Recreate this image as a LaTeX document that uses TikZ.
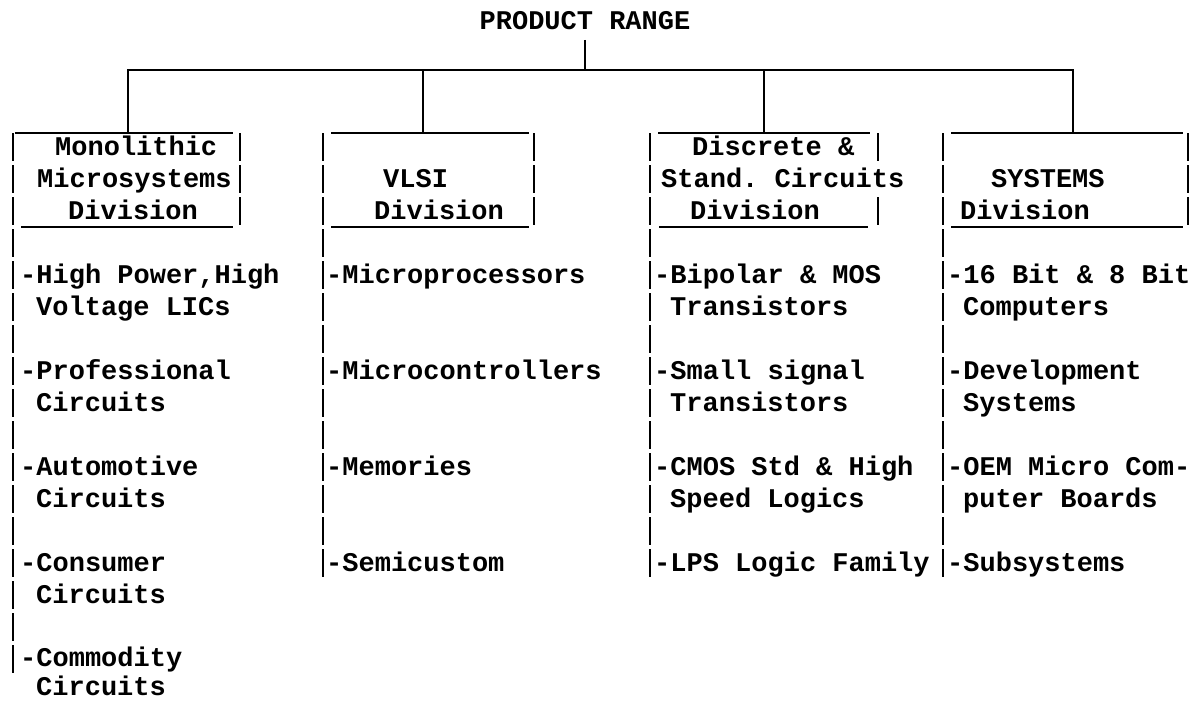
\documentclass[tikz,border=0pt]{standalone}
\usepackage{fontspec}
\setmonofont{Liberation Mono}
\begin{document}
\begin{tikzpicture}[x=1pt,y=-1pt,
  ln/.style={line width=2.8pt},
  barline/.style={line width=2.8pt},
  txt/.style={font=\ttfamily\bfseries\fontsize{27}{32}\selectfont, anchor=base west, inner sep=0pt}]
\useasboundingbox (0,0) rectangle (1202,701);

% title
\node[txt, anchor=base] (title) at (585,30) {PRODUCT RANGE};
\coordinate (tb) at (585,40);
\coordinate (j) at (585,70);
\coordinate (d1) at (128,133);
\coordinate (d2) at (423,133);
\coordinate (d3) at (764,133);
\coordinate (d4) at (1073,133);
\draw[ln] (tb) -- (j);
\draw[ln] (d1) -- (d1|-j) -- (d4|-j) -- (d4);
\draw[ln] (d2|-j) -- (d2);
\draw[ln] (d3|-j) -- (d3);

% box top lines and underlines
\draw[ln] (15,133) -- (233,133);
\draw[ln] (331,133) -- (529,133);
\draw[ln] (658,133) -- (870,133);
\draw[ln] (951,133) -- (1183,133);
\draw[ln] (21,227) -- (233,227);
\draw[ln] (331,227) -- (529,227);
\draw[ln] (659,227) -- (868,227);
\draw[ln] (951,227) -- (1183,227);

% left bars (typewriter rows)
\foreach \k in {0,...,16} \draw[barline] (13,{133+32*\k}) -- (13,{161+32*\k});
\foreach \k in {0,...,13} {
  \draw[barline] (323,{133+32*\k}) -- (323,{161+32*\k});
  \draw[barline] (650,{133+32*\k}) -- (650,{161+32*\k});
  \draw[barline] (943,{133+32*\k}) -- (943,{161+32*\k});
}
% right bars of the division boxes
\foreach \k in {0,1,2} {
  \draw[barline] (240,{133+32*\k}) -- (240,{161+32*\k});
  \draw[barline] (534,{133+32*\k}) -- (534,{161+32*\k});
  \draw[barline] (1188,{133+32*\k}) -- (1188,{161+32*\k});
}
\foreach \k in {0,2} \draw[barline] (878,{133+32*\k}) -- (878,{161+32*\k});

% division boxes
\node[txt] (m1) at (55,155) {Monolithic};
\node[txt] (m2) at (37,187) {Microsystems};
\node[txt] (m3) at (68,219) {Division};
\node[txt] (v1) at (383,187) {VLSI};
\node[txt] (v2) at (374,219) {Division};
\node[txt] (c1) at (692,155) {Discrete \&};
\node[txt] (c2) at (661,187) {Stand. Circuits};
\node[txt] (c3) at (690,219) {Division};
\node[txt] (s1) at (991,187) {SYSTEMS};
\node[txt] (s2) at (960,219) {Division};

% column 1
\node[txt] (a1) at (20,283) {-High Power,High};
\node[txt] (a2) at (36,315) {Voltage LICs};
\node[txt] (a3) at (20,379) {-Professional};
\node[txt] (a4) at (36,411) {Circuits};
\node[txt] (a5) at (20,475) {-Automotive};
\node[txt] (a6) at (36,507) {Circuits};
\node[txt] (a7) at (20,571) {-Consumer};
\node[txt] (a8) at (36,603) {Circuits};
\node[txt] (a9) at (20,666) {-Commodity};
\node[txt] (a10) at (36,695) {Circuits};

% column 2
\node[txt] (b1) at (326,283) {-Microprocessors};
\node[txt] (b2) at (326,379) {-Microcontrollers};
\node[txt] (b3) at (326,475) {-Memories};
\node[txt] (b4) at (326,571) {-Semicustom};

% column 3
\node[txt] (e1) at (654,283) {-Bipolar \& MOS};
\node[txt] (e2) at (670,315) {Transistors};
\node[txt] (e3) at (654,379) {-Small signal};
\node[txt] (e4) at (670,411) {Transistors};
\node[txt] (e5) at (654,475) {-CMOS Std \& High};
\node[txt] (e6) at (670,507) {Speed Logics};
\node[txt] (e7) at (654,571) {-LPS Logic Family};

% column 4
\node[txt] (f1) at (947,283) {-16 Bit \& 8 Bit};
\node[txt] (f2) at (963,315) {Computers};
\node[txt] (f3) at (947,379) {-Development};
\node[txt] (f4) at (963,411) {Systems};
\node[txt] (f5) at (947,475) {-OEM Micro Com-};
\node[txt] (f6) at (963,507) {puter Boards};
\node[txt] (f7) at (947,571) {-Subsystems};
\end{tikzpicture}
\end{document}
